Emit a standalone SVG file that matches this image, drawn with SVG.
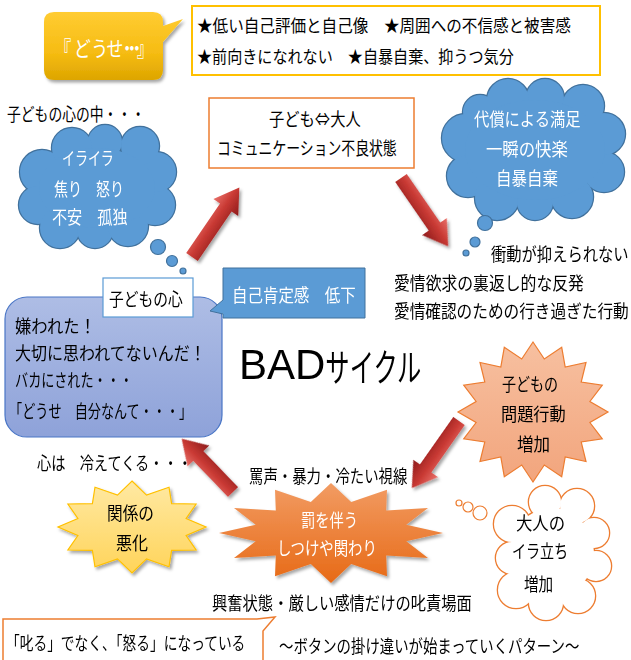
<svg xmlns="http://www.w3.org/2000/svg" xmlns:xlink="http://www.w3.org/1999/xlink" width="631" height="660" viewBox="0 0 631 660">
<style>
  text { font-family: "Noto Sans CJK JP", "Noto Sans", sans-serif; font-size: 18px; fill: #000; dominant-baseline: central; }
  .w { fill: #fff; }
  .s17 { font-size: 17px; }
</style>
<defs>
  <filter id="sh" x="-20%" y="-20%" width="140%" height="150%">
    <feDropShadow dx="2" dy="2.5" stdDeviation="1.6" flood-color="#000" flood-opacity="0.35"/>
  </filter>
  <linearGradient id="gGold" x1="0" y1="0" x2="0" y2="1">
    <stop offset="0" stop-color="#FFCC33"/><stop offset="0.6" stop-color="#F6BC12"/><stop offset="1" stop-color="#DDA500"/>
  </linearGradient>
  <linearGradient id="gHeart" x1="0" y1="0" x2="0" y2="1">
    <stop offset="0" stop-color="#AEBDE5"/><stop offset="1" stop-color="#8EA2D9"/>
  </linearGradient>
  <linearGradient id="gYel" x1="0" y1="0" x2="0" y2="1">
    <stop offset="0" stop-color="#FFE9A3"/><stop offset="1" stop-color="#FFD45A"/>
  </linearGradient>
  <linearGradient id="gOra" x1="0" y1="0" x2="0" y2="1">
    <stop offset="0" stop-color="#F29C63"/><stop offset="1" stop-color="#E76A16"/>
  </linearGradient>
  <linearGradient id="gSal" x1="0" y1="0" x2="0" y2="1">
    <stop offset="0" stop-color="#F7C0A0"/><stop offset="1" stop-color="#F2A57D"/>
  </linearGradient>
  <linearGradient id="gArr" gradientUnits="userSpaceOnUse" x1="0" y1="-15" x2="0" y2="15">
    <stop offset="0" stop-color="#E8706A"/><stop offset="0.45" stop-color="#C93A34"/><stop offset="1" stop-color="#8E1B1B"/>
  </linearGradient>
  <g id="cL">
    <circle cx="42" cy="172" r="22"/><circle cx="38" cy="205" r="19"/><circle cx="60" cy="228" r="20"/>
    <circle cx="95" cy="230" r="18"/><circle cx="128" cy="226" r="20"/><circle cx="155" cy="205" r="20"/>
    <circle cx="156" cy="172" r="20"/><circle cx="140" cy="146" r="19"/><circle cx="105" cy="142" r="17"/>
    <circle cx="72" cy="148" r="20"/><ellipse cx="97" cy="188" rx="58" ry="40"/>
  </g>
  <g id="cR">
    <circle cx="466" cy="138" r="24"/><circle cx="468" cy="176" r="21"/><circle cx="497" cy="198" r="22"/>
    <circle cx="535" cy="202" r="18"/><circle cx="572" cy="197" r="21"/><circle cx="604" cy="172" r="20"/>
    <circle cx="604" cy="134" r="21"/><circle cx="583" cy="106" r="21"/><circle cx="545" cy="98" r="19"/>
    <circle cx="508" cy="100" r="21"/><circle cx="480" cy="112" r="17"/><ellipse cx="535" cy="150" rx="70" ry="50"/>
  </g>
  <g id="cW">
    <circle cx="512" cy="524" r="18"/><circle cx="512" cy="558" r="16"/><circle cx="516" cy="590" r="18"/>
    <circle cx="546" cy="603" r="17"/><circle cx="578" cy="596" r="17"/><circle cx="596" cy="566" r="15"/>
    <circle cx="594" cy="533" r="15"/><circle cx="577" cy="506" r="17"/><circle cx="545" cy="502" r="16"/>
    <ellipse cx="552" cy="553" rx="42" ry="45"/>
  </g>
</defs>

<!-- connectors -->
<g id="connectors" fill="url(#gArr)" filter="url(#sh)">
  <path transform="translate(192,257) rotate(-55.7)" d="M0,-7 H60 V-15 L84,0 L60,15 V7 H0 Z"/>
  <path transform="translate(401,178) rotate(55.4)" d="M0,-7 H59 V-15 L83,0 L59,15 V7 H0 Z"/>
  <path transform="translate(459,421) rotate(125.1)" d="M0,-7 H58 V-15 L82,0 L58,15 V7 H0 Z"/>
  <path transform="translate(233,492) rotate(-133.9)" d="M0,-7 H50 V-15 L74,0 L50,15 V7 H0 Z"/>
</g>

<g id="dousei">
  <path filter="url(#sh)" fill="url(#gGold)" d="M54,12 H153 Q163,12 163,22 V26 L183,19 L163,42 V70 Q163,80 153,80 H54 Q44,80 44,70 V22 Q44,12 54,12 Z"/>
  <text class="w" transform="translate(0,47) scale(0.8,1)" style="font-size:21px" x="68 92.5 114 133 148.5 154.5 160.5 171">『どうせ・・・』</text>
</g>

<g id="traits">
  <rect x="192" y="6" width="408" height="69" fill="#fff" stroke="#FFC000" stroke-width="2"/>
  <text class="s17" transform="translate(197,25) scale(0.917,1)">★低い自己評価と自己像　★周囲への不信感と被害感</text>
  <text class="s17" transform="translate(197,56) scale(0.888,1)">★前向きになれない　★自暴自棄、抑うつ気分</text>
</g>

<g id="inner-label">
  <text transform="translate(7,113) scale(0.767,1)">子どもの心の中・・・</text>
</g>

<g id="cloud-feelings">
  <use xlink:href="#cL" href="#cL" fill="#5B9BD5" stroke="#41719C" stroke-width="2.4"/>
  <use xlink:href="#cL" href="#cL" fill="#5B9BD5" stroke="none"/>
  <g fill="#5B9BD5" stroke="#41719C" stroke-width="1.2">
    <circle cx="158" cy="247" r="7.5"/><circle cx="172" cy="261" r="5.5"/><circle cx="183" cy="271" r="3"/>
  </g>
  <text class="w" transform="translate(62,158) scale(0.72,1)">イライラ</text>
  <text class="w" transform="translate(54,188) scale(0.78,1)">焦り　怒り</text>
  <text class="w" transform="translate(52,216) scale(0.84,1)">不安　孤独</text>
</g>

<g id="communication">
  <rect x="209" y="98" width="205" height="70" fill="#fff" stroke="#ED7D31" stroke-width="1.5"/>
  <text transform="translate(269,118) scale(0.85,1)">子ども⇔大人</text>
  <text transform="translate(217,147) scale(0.77,1)">コミュニケーション不良状態</text>
</g>

<g id="cloud-compensation">
  <use xlink:href="#cR" href="#cR" fill="#5B9BD5" stroke="#41719C" stroke-width="2.4"/>
  <use xlink:href="#cR" href="#cR" fill="#5B9BD5" stroke="none"/>
  <g fill="#5B9BD5" stroke="#41719C" stroke-width="1.2">
    <circle cx="485" cy="223" r="7.5"/><circle cx="475" cy="242" r="5"/><circle cx="466" cy="253" r="3"/>
  </g>
  <text class="w" transform="translate(474,118) scale(0.85,1)">代償による満足</text>
  <text class="w" transform="translate(486,148) scale(0.91,1)">一瞬の快楽</text>
  <text class="w" transform="translate(496,177) scale(0.86,1)">自暴自棄</text>
</g>

<g id="behaviour">
  <text transform="translate(491,253) scale(0.85,1)">衝動が抑えられない</text>
  <text transform="translate(394,282) scale(0.88,1)">愛情欲求の裏返し的な反発</text>
  <text transform="translate(394,310) scale(0.87,1)">愛情確認のための行き過ぎた行動</text>
</g>

<g id="heart">
  <rect x="5" y="297" width="217" height="140" rx="22" fill="url(#gHeart)" stroke="#4A76C6" stroke-width="1.2"/>
  <text transform="translate(15,325) scale(0.91,1)">嫌われた！</text>
  <text transform="translate(15,352) scale(0.89,1)">大切に思われてないんだ！</text>
  <text transform="translate(15,380) scale(0.73,1)">バカにされた・・・</text>
  <text transform="translate(9,411) scale(0.73,1)">「どうせ　自分なんて・・・」</text>
</g>

<g id="heart-label">
  <rect x="103" y="278" width="90" height="39" fill="#fff" stroke="#5B9BD5" stroke-width="1.2"/>
  <text transform="translate(109,298) scale(0.82,1)">子どもの心</text>
</g>

<g id="self-esteem">
  <path d="M223,268 H365 V318 H223 V314 L210,311 L223,300 Z" fill="#5B9BD5" stroke="#41719C" stroke-width="1"/>
  <text class="w" transform="translate(232,294) scale(0.86,1)">自己肯定感　低下</text>
</g>

<g id="title">
  <text x="239" y="364" style="font-family:'Liberation Sans','Noto Sans CJK JP',sans-serif;font-size:42px"><tspan>BAD</tspan><tspan style="font-family:'Noto Sans CJK JP',sans-serif;font-size:38px" textLength="96" lengthAdjust="spacingAndGlyphs">サイクル</tspan></text>
</g>

<g id="cold">
  <text transform="translate(37,462) scale(0.79,1)">心は　冷えてくる・・・</text>
</g>

<g id="relation">
  <polygon filter="url(#sh)" fill="url(#gYel)" stroke="#FFC000" stroke-width="1.2" points="132,481 146.5,495.1 169,487.2 171.6,503.7 196.1,504 186.1,518.5 206,527 186.1,535.5 196.1,550 171.6,550.3 169,566.8 146.5,558.9 132,573 117.5,558.9 95,566.8 92.4,550.3 67.9,550 77.9,535.5 58,527 77.9,518.5 67.9,504 92.4,503.7 95,487.2 117.5,495.1"/>
  <text transform="translate(107,512) scale(0.87,1)">関係の</text>
  <text transform="translate(116,542) scale(0.89,1)">悪化</text>
</g>

<g id="verbal">
  <text transform="translate(249,475) scale(0.8,1)">罵声・暴力・冷たい視線</text>
</g>

<g id="punishment">
  <polygon filter="url(#sh)" fill="url(#gOra)" points="331,483 351.2,502.1 387,489.7 386.2,510.4 428,508 406.3,524.7 443,533 406.3,541.3 428,558 386.2,555.6 387,576.3 351.2,563.9 331,583 310.8,563.9 275,576.3 275.8,555.6 234,558 255.7,541.3 219,533 255.7,524.7 234,508 275.8,510.4 275,489.7 310.8,502.1"/>
  <text class="w" transform="translate(301,519) scale(0.79,1)">罰を伴う</text>
  <text class="w" transform="translate(277,547) scale(0.8,1)">しつけや関わり</text>
</g>

<g id="scolding">
  <text transform="translate(212,602) scale(0.85,1)">興奮状態・厳しい感情だけの叱責場面</text>
</g>

<g id="problem">
  <polygon fill="url(#gSal)" stroke="#ED7D31" stroke-width="1.2" points="533,342 544.3,359 561.7,347.3 565.2,367.1 586,362.5 581.2,382 602.3,385.2 589.9,401.5 608,412 589.9,422.5 602.3,438.8 581.2,442 586,461.5 565.2,456.9 561.7,476.7 544.3,465 533,482 521.7,465 504.3,476.7 500.8,456.9 480,461.5 484.8,442 463.7,438.8 476.1,422.5 458,412 476.1,401.5 463.7,385.2 484.8,382 480,362.5 500.8,367.1 504.3,347.3 521.7,359"/>
  <text transform="translate(502,383) scale(0.78,1)">子どもの</text>
  <text transform="translate(501,413) scale(0.9,1)">問題行動</text>
  <text transform="translate(517,443) scale(0.92,1)">増加</text>
</g>

<g id="adult">
  <use xlink:href="#cW" href="#cW" fill="#fff" stroke="#ED7D31" stroke-width="2.6"/>
  <use xlink:href="#cW" href="#cW" fill="#fff" stroke="none"/>
  <g fill="#fff" stroke="#ED7D31" stroke-width="1.2">
    <circle cx="459" cy="503" r="3"/><circle cx="468" cy="507" r="5"/><circle cx="480" cy="513" r="7"/>
  </g>
  <text transform="translate(516,522) scale(0.91,1)">大人の</text>
  <text transform="translate(512,550) scale(0.78,1)">イラ立ち</text>
  <text transform="translate(524,583) scale(0.81,1)">増加</text>
</g>

<g id="angry">
  <path d="M3,619 H257 L275,617 L263,631 V666 H3 Z" fill="#fff" stroke="#ED7D31" stroke-width="1.5"/>
  <text transform="translate(6,642) scale(0.762,1)">「叱る」でなく、「怒る」になっている</text>
</g>

<g id="pattern">
  <text transform="translate(279,645) scale(0.8,1)">～ボタンの掛け違いが始まっていくパターン～</text>
</g>
</svg>
